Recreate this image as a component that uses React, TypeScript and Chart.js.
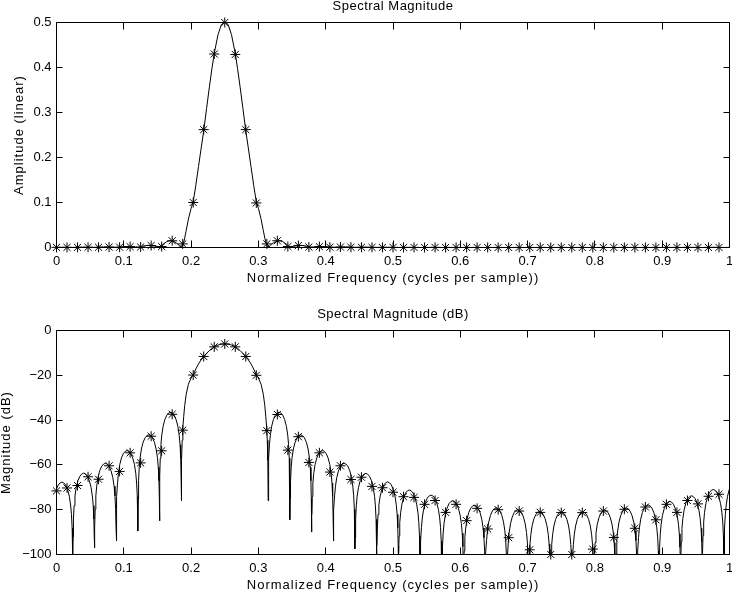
import React, { useEffect, useRef } from 'react';
import { Chart, registerables } from 'chart.js';

Chart.register(...registerables);

const FONT_FAMILY = '"Liberation Sans", Arial, Helvetica, sans-serif';

// ---------------- data ----------------
// 64 DFT bins (cycles per sample)
const binCount = 64;
const binFreq: number[] = Array.from({ length: binCount }, (_, k) => k / binCount);

// Top plot: marker amplitudes (linear)
const binAmpLinear: number[] = [
  0.0003, 0.0003, 0.0003, 0.0005, 0.0005, 0.001, 0.0007, 0.0019,
  0.0011, 0.0044, 0.0021, 0.015, 0.008, 0.1, 0.262, 0.43,
  0.5, 0.429, 0.262, 0.099, 0.008, 0.015, 0.0021, 0.0043,
  0.0011, 0.0019, 0.0007, 0.001, 0.0005, 0.0005, 0.0003, 0.0003,
  0.0002, 0.0002, 0.0002, 0.0001, 0.0002, 0.0001, 0.0001, 0.0001,
  0.0001, 0.0001, 0.0001, 0.0, 0.0001, 0.0, 0.0001, 0.0,
  0.0001, 0.0, 0.0001, 0.0, 0.0001, 0.0, 0.0001, 0.0001,
  0.0001, 0.0001, 0.0001, 0.0001, 0.0002, 0.0001, 0.0002, 0.0002,
];

// Bottom plot: marker magnitudes (dB)
const binMagDb: number[] = [
  -71.6, -70.3, -69.2, -65.3, -66.4, -60.4, -62.9, -54.6,
  -59.1, -47.2, -53.7, -37.4, -44.5, -19.9, -11.6, -7.3,
  -6.0, -7.3, -11.6, -20.0, -44.7, -37.5, -53.4, -47.4,
  -58.9, -54.6, -63.2, -60.4, -66.5, -65.5, -69.6, -70.2,
  -72.2, -74.2, -74.5, -77.6, -75.9, -81.2, -77.6, -84.9,
  -79.4, -88.6, -80.0, -92.5, -80.6, -97.9, -81.2, -100.0,
  -81.3, -100.0, -81.3, -97.6, -80.6, -92.4, -79.8, -88.3,
  -78.8, -84.5, -77.6, -81.2, -75.9, -77.4, -74.0, -73.1,
];

// Continuous spectrum: null positions and depths (dB)
const nullFreq: number[] = [
  -0.0081, 0.0242, 0.0565, 0.0888, 0.121, 0.1532, 0.1855,
  0.3145, 0.3468, 0.379, 0.4113, 0.4435, 0.4758, 0.5081, 0.5403,
  0.5726, 0.6048, 0.6371, 0.6694, 0.7016, 0.7339, 0.7661, 0.7984,
  0.8306, 0.8629, 0.8952, 0.9274, 0.9597, 0.9919, 1.0242,
];
const nullDepthDb: number[] = [
  -112, -100.5, -97, -94, -89.5, -85, -76,
  -76, -84.5, -90, -94, -97.5, -101, -108, -112,
  -112, -112, -112, -112, -112, -112, -112, -112,
  -112, -112, -112, -112, -112, -112, -112,
];
// Peak of each lobe between consecutive nulls (null = main lobe, given below)
const lobePeakDb: (number | null)[] = [
  -67.7, -63.7, -59.3, -53.6, -46.6, -36.5,
  null,
  -36.5, -46.6, -53.6, -59.3, -63.8, -67.6, -71.2, -73.5, -76.0, -78.0,
  -79.2, -80.0, -80.8, -81.0, -81.0, -80.2, -79.3, -77.9, -76.3, -73.8,
  -71.0, -67.7,
];
// Arch profile of a side lobe: fraction of lobe width from a null, drop from the peak (dB)
const lobeProfileFrac: number[] = [0.012, 0.03, 0.06, 0.1, 0.16, 0.24, 0.33, 0.42, 0.5];
const lobeProfileDropDb: number[] = [-28.5, -20.5, -14.5, -10.2, -6.3, -3.3, -1.3, -0.3, 0];

// Main lobe (dB)
const mainLobeFreq: number[] = [
  0.1855, 0.186, 0.1868, 0.1878, 0.189, 0.1905, 0.1927, 0.196, 0.2, 0.2031,
  0.207, 0.211, 0.215, 0.2188, 0.223, 0.227, 0.231, 0.2344, 0.24, 0.245,
  0.25,
  0.255, 0.26, 0.2656, 0.269, 0.273, 0.277, 0.2812, 0.285, 0.289, 0.293,
  0.2969, 0.3, 0.304, 0.3073, 0.3095, 0.311, 0.3122, 0.3132, 0.314, 0.3145,
];
const mainLobeDb: number[] = [
  -76, -58, -49, -43, -38.5, -33.5, -28.5, -24, -21.2, -19.9,
  -17.2, -14.9, -13.1, -11.7, -10.2, -9.0, -8.0, -7.3, -6.5, -6.1,
  -6.0,
  -6.1, -6.5, -7.3, -8.0, -9.0, -10.2, -11.7, -13.1, -14.9, -17.2,
  -19.9, -21.2, -24, -28.5, -33.5, -38.5, -43, -49, -58, -76,
];

const freqTicks: number[] = [0, 0.1, 0.2, 0.3, 0.4, 0.5, 0.6, 0.7, 0.8, 0.9, 1];
const ampTicks: number[] = [0, 0.1, 0.2, 0.3, 0.4, 0.5];
const dbTicks: number[] = [-100, -80, -60, -40, -20, 0];

// ---------------- tables for the library ----------------
type Pt = { x: number; y: number };

function buildCurveDb(): Pt[] {
  const pts: Pt[] = [];
  for (let i = 0; i < nullFreq.length - 1; i++) {
    const a = nullFreq[i];
    const b = nullFreq[i + 1];
    const w = b - a;
    pts.push({ x: a, y: nullDepthDb[i] });
    const peak = lobePeakDb[i];
    if (peak === null) {
      for (let j = 1; j < mainLobeFreq.length - 1; j++) pts.push({ x: mainLobeFreq[j], y: mainLobeDb[j] });
      continue;
    }
    for (let j = 0; j < lobeProfileFrac.length; j++) {
      pts.push({ x: a + lobeProfileFrac[j] * w, y: peak + lobeProfileDropDb[j] });
    }
    for (let j = lobeProfileFrac.length - 2; j >= 0; j--) {
      pts.push({ x: b - lobeProfileFrac[j] * w, y: peak + lobeProfileDropDb[j] });
    }
  }
  const last = nullFreq.length - 1;
  pts.push({ x: nullFreq[last], y: nullDepthDb[last] });
  return pts;
}

const curveDb = buildCurveDb();
const curveLinear: Pt[] = curveDb.map((p) => ({ x: p.x, y: Math.pow(10, p.y / 20) }));
const markersLinear: Pt[] = binFreq.map((f, k) => ({ x: f, y: binAmpLinear[k] }));
const markersDb: Pt[] = binFreq.map((f, k) => ({ x: f, y: binMagDb[k] }));

// ---------------- plugins ----------------
const framePlugin = {
  id: 'matlabFrame',
  afterDatasetsDraw(chart: any) {
    const { ctx, chartArea: ca, scales } = chart;
    const xs = scales.x;
    const ys = scales.y;
    ctx.save();
    ctx.strokeStyle = '#000';
    ctx.lineWidth = 1;
    ctx.beginPath();
    ctx.rect(ca.left, ca.top, ca.right - ca.left, ca.bottom - ca.top);
    xs.ticks.forEach((t: any) => {
      const p = Math.round(xs.getPixelForValue(t.value) - 0.5) + 0.5;
      ctx.moveTo(p, ca.bottom);
      ctx.lineTo(p, ca.bottom - 7);
      ctx.moveTo(p, ca.top);
      ctx.lineTo(p, ca.top + 7);
    });
    ys.ticks.forEach((t: any) => {
      const p = Math.round(ys.getPixelForValue(t.value) - 0.5) + 0.5;
      ctx.moveTo(ca.left, p);
      ctx.lineTo(ca.left + 6, p);
      ctx.moveTo(ca.right, p);
      ctx.lineTo(ca.right - 6, p);
    });
    ctx.stroke();
    ctx.restore();
  },
};

function makeTextPlugin(cfg: { title: string; xLabel: string; yLabel: string; yLabelX: number }) {
  return {
    id: 'matlabText',
    afterDraw(chart: any) {
      const { ctx, chartArea: ca } = chart;
      ctx.save();
      ctx.fillStyle = '#000';
      ctx.font = `13px ${FONT_FAMILY}`;
      ctx.textAlign = 'center';
      ctx.textBaseline = 'middle';
      const cx = (ca.left + ca.right) / 2;
      ctx.letterSpacing = '0.5px';
      ctx.fillText(cfg.title, cx, ca.top - 16);
      ctx.letterSpacing = '1px';
      ctx.fillText(cfg.xLabel, cx, ca.bottom + 31);
      ctx.translate(cfg.yLabelX, (ca.top + ca.bottom) / 2);
      ctx.rotate(-Math.PI / 2);
      ctx.fillText(cfg.yLabel, 0, 0);
      ctx.restore();
    },
  };
}

const fmtNum = (v: number) => {
  const s = String(Number(v.toFixed(2)));
  return v < 0 ? '\u2212' + s.slice(1) : s;
};

function makeConfig(opts: {
  curve: Pt[];
  markers: Pt[];
  yMin: number;
  yMax: number;
  yTicks: number[];
  canvasH: number;
  areaTop: number;
  areaBottom: number;
  title: string;
  yLabel: string;
  yLabelX: number;
}): any {
  const tickFont = { family: FONT_FAMILY, size: 13 };
  return {
    type: 'scatter',
    data: {
      datasets: [
        {
          data: opts.curve,
          showLine: true,
          borderColor: '#000',
          borderWidth: 1,
          pointRadius: 0,
          pointHoverRadius: 0,
          tension: 0,
          clip: 0,
        },
        {
          data: opts.markers,
          showLine: false,
          pointStyle: 'star',
          pointRadius: 5,
          pointHoverRadius: 5,
          borderColor: '#000',
          backgroundColor: '#000',
          borderWidth: 1,
          pointBorderWidth: 1,
          clip: false,
        },
      ],
    },
    options: {
      animation: false,
      responsive: false,
      devicePixelRatio: 1,
      events: [],
      layout: {
        autoPadding: false,
        padding: { left: 0, right: 732 - 729.5, top: opts.areaTop, bottom: 0 },
      },
      plugins: { legend: { display: false }, tooltip: { enabled: false }, title: { display: false } },
      scales: {
        x: {
          type: 'linear',
          position: 'bottom',
          min: 0,
          max: 1,
          grid: { display: false, drawTicks: false },
          border: { display: false },
          afterBuildTicks: (s: any) => {
            s.ticks = freqTicks.map((value) => ({ value }));
          },
          ticks: {
            autoSkip: false,
            maxRotation: 0,
            padding: 6,
            color: '#000',
            font: tickFont,
            callback: (v: any) => fmtNum(Number(v)),
          },
          afterFit: (s: any) => {
            s.height = opts.canvasH - opts.areaBottom;
            s.paddingLeft = 0;
            s.paddingRight = 0;
            s.paddingTop = 0;
            s.paddingBottom = 0;
          },
        },
        y: {
          type: 'linear',
          position: 'left',
          min: opts.yMin,
          max: opts.yMax,
          grid: { display: false, drawTicks: false },
          border: { display: false },
          afterBuildTicks: (s: any) => {
            s.ticks = opts.yTicks.map((value) => ({ value }));
          },
          ticks: {
            autoSkip: false,
            padding: 5,
            color: '#000',
            font: tickFont,
            callback: (v: any) => fmtNum(Number(v)),
          },
          afterFit: (s: any) => {
            s.width = 56.5;
            s.paddingLeft = 0;
            s.paddingRight = 0;
            s.paddingTop = 0;
            s.paddingBottom = 0;
          },
        },
      },
    },
    plugins: [
      framePlugin,
      makeTextPlugin({
        title: opts.title,
        xLabel: 'Normalized Frequency (cycles per sample))',
        yLabel: opts.yLabel,
        yLabelX: opts.yLabelX,
      }),
    ],
  };
}

export default function App() {
  const topRef = useRef<HTMLCanvasElement>(null);
  const botRef = useRef<HTMLCanvasElement>(null);

  useEffect(() => {
    if (!topRef.current || !botRef.current) return;
    const top = new Chart(
      topRef.current,
      makeConfig({
        curve: curveLinear,
        markers: markersLinear,
        yMin: 0,
        yMax: 0.5,
        yTicks: ampTicks,
        canvasH: 300,
        areaTop: 22.5,
        areaBottom: 247.5,
        title: 'Spectral Magnitude',
        yLabel: 'Amplitude (linear)',
        yLabelX: 19.5,
      })
    );
    const bot = new Chart(
      botRef.current,
      makeConfig({
        curve: curveDb,
        markers: markersDb,
        yMin: -100,
        yMax: 0,
        yTicks: dbTicks,
        canvasH: 295,
        areaTop: 30.5,
        areaBottom: 254.5,
        title: 'Spectral Magnitude (dB)',
        yLabel: 'Magnitude (dB)',
        yLabelX: 6.5,
      })
    );
    return () => {
      top.destroy();
      bot.destroy();
    };
  }, []);

  return (
    <div style={{ position: 'absolute', left: 0, top: 0, width: 732, height: 595, background: '#fff' }}>
      <canvas ref={topRef} width={732} height={300} style={{ position: 'absolute', left: 0, top: 0, width: 732, height: 300, display: 'block' }} />
      <canvas ref={botRef} width={732} height={295} style={{ position: 'absolute', left: 0, top: 300, width: 732, height: 295, display: 'block' }} />
    </div>
  );
}
